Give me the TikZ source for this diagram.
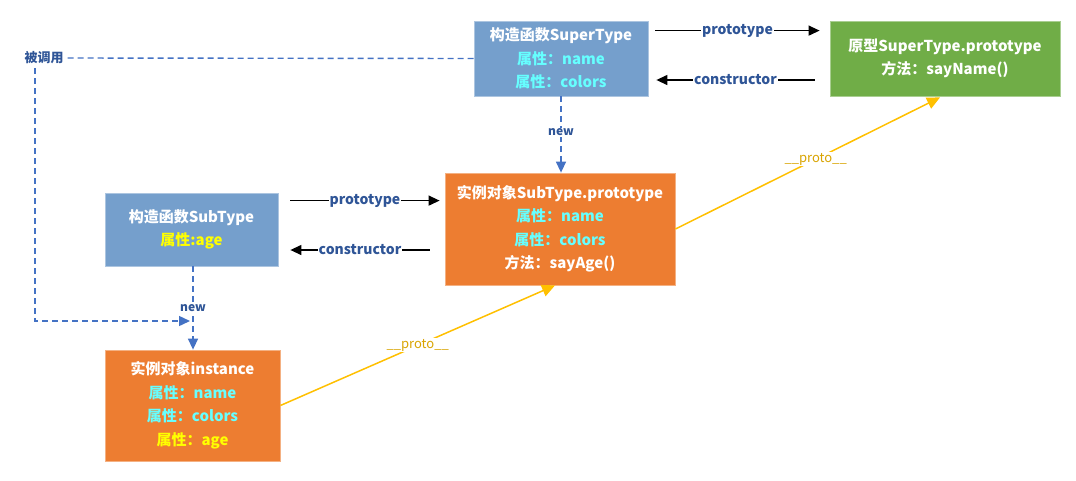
\documentclass[tikz,border=0pt]{standalone}
\usepackage{fontspec}
\setmainfont{Noto Sans CJK SC}
\usetikzlibrary{calc,arrows.meta}
\definecolor{boxblue}{HTML}{759FCC}
\definecolor{boxorange}{HTML}{ED7D31}
\definecolor{boxgreen}{HTML}{70AD47}
\definecolor{txtcyan}{HTML}{66FFFF}
\definecolor{txtyellow}{HTML}{FFFF00}
\definecolor{lblblue}{HTML}{2F5597}
\definecolor{dashblue}{HTML}{4472C4}
\definecolor{protoline}{HTML}{FFC000}
\definecolor{prototxt}{HTML}{D9A400}
\tikzset{
  boxnode/.style={draw=#1!60!white, line width=0.8pt, fill=#1, text=white, align=center,
    inner sep=0pt, font=\bfseries\fontsize{15}{23.5}\selectfont},
  lbl/.style={fill=white, inner sep=1pt, text=lblblue, font=\bfseries\fontsize{14}{15}\selectfont},
  newlbl/.style={fill=white, inner sep=1pt, text=lblblue, font=\bfseries\fontsize{12}{13}\selectfont},
  protolbl/.style={fill=white, inner sep=1pt, text=prototxt, font=\fontsize{13}{14}\selectfont},
  blackarrow/.style={line width=1.3pt, -{Triangle[length=11pt,width=10pt]}},
  dasharrow/.style={dashblue, line width=1.4pt, dash pattern=on 6pt off 4pt, -{Triangle[length=11pt,width=10pt]}},
  dashline/.style={dashblue, line width=1.4pt, dash pattern=on 6pt off 4pt},
  protoarrow/.style={protoline, line width=1.5pt, -{Triangle[length=13pt,width=12pt]}}
}
\newcommand{\cy}[1]{\textcolor{txtcyan}{#1}}
\newcommand{\yl}[1]{\textcolor{txtyellow}{#1}}
\begin{document}
\begin{tikzpicture}[x=1pt,y=-1pt]
\useasboundingbox[fill=white] (0,0) rectangle (1076,480);

\node[boxnode=boxblue, minimum width=174pt, minimum height=75pt] (sup) at (561,58.5)
  {构造函数SuperType\\ \cy{属性：name}\\ \cy{属性：colors}};
\node[boxnode=boxgreen, minimum width=230pt, minimum height=75pt] (proto) at (945,58.5)
  {原型SuperType.prototype\\ 方法：sayName()};
\node[boxnode=boxorange, minimum width=230pt, minimum height=112pt] (subp) at (560,229)
  {实例对象SubType.prototype\\ \cy{属性：name}\\ \cy{属性：colors}\\ 方法：sayAge()};
\node[boxnode=boxblue, minimum width=173pt, minimum height=73pt] (sub) at (191.5,229.5)
  {构造函数SubType\\ \yl{属性:age}};
\node[boxnode=boxorange, minimum width=175pt, minimum height=111pt] (inst) at (192.5,405.5)
  {实例对象instance\\ \cy{属性：name}\\ \cy{属性：colors}\\ \yl{属性：age}};

\node[text=lblblue, font=\bfseries\fontsize{13}{14}\selectfont, inner sep=1pt] (called) at (44,58) {被调用};

% top arrows
\coordinate (pa1) at ($(sup.north east)+(7,10)$);
\coordinate (pa2) at ($(proto.north west)+(-10,10)$);
\draw[blackarrow] (pa1) -- node[lbl]{prototype} (pa2);
\coordinate (ca1) at ($(proto.west)+(-15,21.5)$);
\coordinate (ca2) at ($(sup.east)+(8,21.5)$);
\draw[blackarrow] (ca1) -- node[lbl]{constructor} (ca2);

% middle arrows
\coordinate (pb1) at ($(sub.north east)+(12,8)$);
\coordinate (pb2) at ($(subp.north west)+(-5,28)$);
\draw[blackarrow] (pb1) -- node[lbl]{prototype} (pb2);
\coordinate (cb1) at ($(subp.west)+(-15,21)$);
\coordinate (cb2) at ($(sub.east)+(12,20.5)$);
\draw[blackarrow] (cb1) -- node[lbl]{constructor} (cb2);

% new arrows
\draw[dasharrow] (sup.south) -- node[newlbl, pos=0.47]{new} (sup.south |- subp.north);
\draw[dasharrow] ([xshift=1.5pt]sub.south) -- node[newlbl, pos=0.5]{new} ([xshift=1.5pt]sub.south |- inst.north);

% called
\draw[dashline] (sup.west) -- (called.east);
\coordinate (cv1) at (35,68);
\coordinate (cv2) at (35,321);
\coordinate (cv3) at (190,321);
\draw[dasharrow] (cv1) -- (cv2) -- (cv3);

% proto arrows
\draw[protoarrow] (inst.east) -- node[protolbl, pos=0.5]{\_\_proto\_\_} ($(subp.south)+(-5,0)$);
\draw[protoarrow] (subp.east) -- node[protolbl, pos=0.53]{\_\_proto\_\_} ($(proto.south)+(-5,1)$);
\end{tikzpicture}
\end{document}
